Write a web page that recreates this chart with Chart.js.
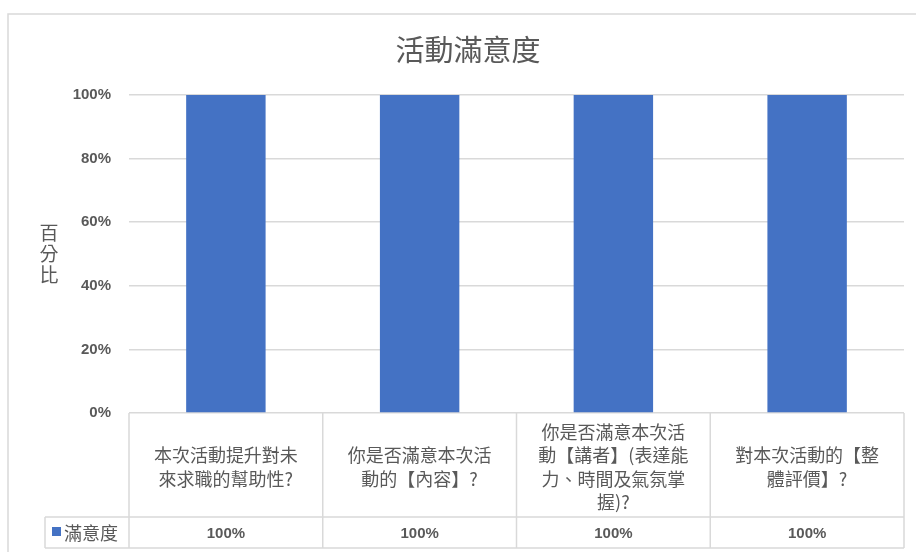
<!DOCTYPE html>
<html>
<head>
<meta charset="utf-8">
<script src="https://cdn.jsdelivr.net/npm/chart.js@4"></script>
<style>
  html, body { margin: 0; padding: 0; background: #fff; }
  #wrap { width: 916px; height: 552px; }
</style>
</head>
<body>
<div id="wrap"><canvas id="satChart" width="916" height="552"></canvas></div>
<script>
// chart data
const categories = [
    ["本次活動提升對未", "來求職的幫助性?"],
    ["你是否滿意本次活", "動的【內容】?"],
    ["你是否滿意本次活", "動【講者】(表達能", "力、時間及氣氛掌", "握)?"],
    ["對本次活動的【整", "體評價】?"]
];
const satisfaction = [100, 100, 100, 100];
const seriesName = "滿意度";
const chartTitle = "活動滿意度";
const axisTitle = ["百", "分", "比"];

const cjk = '"Noto Sans CJK TC", "Noto Sans CJK SC", sans-serif';
const grey = "#595959";
const lineCol = "#d9d9d9";
const barCol = "#4472c4";

// draws title, axis title, outer frame and the data table under the plot
const extras = {
    id: "extras",
    afterDraw(chart) {
        const ctx = chart.ctx;
        const area = chart.chartArea;
        const n = categories.length;
        const colW = (area.right - area.left) / n;
        const tableTop = area.bottom;
        const rowSplit = 517;
        const tableBottom = 548;
        ctx.save();

        // outer frame
        ctx.strokeStyle = lineCol;
        ctx.lineWidth = 1.5;
        ctx.strokeRect(8, 14, 940, 600);

        // title
        ctx.fillStyle = grey;
        ctx.font = "29px " + cjk;
        ctx.textAlign = "center";
        ctx.textBaseline = "middle";
        ctx.fillText(chartTitle, 468, 50);

        // vertical axis title
        ctx.font = "19px " + cjk;
        axisTitle.forEach((ch, i) => ctx.fillText(ch, 49, 233 + i * 21));

        // table grid
        ctx.strokeStyle = lineCol;
        ctx.lineWidth = 1.5;
        ctx.beginPath();
        for (let i = 0; i <= n; i++) {
            const x = area.left + i * colW;
            ctx.moveTo(x, tableTop);
            ctx.lineTo(x, tableBottom);
        }
        ctx.moveTo(45, rowSplit);
        ctx.lineTo(area.right, rowSplit);
        ctx.moveTo(45, tableBottom);
        ctx.lineTo(area.right, tableBottom);
        ctx.moveTo(45, rowSplit);
        ctx.lineTo(45, tableBottom);
        ctx.stroke();

        // category labels
        ctx.fillStyle = grey;
        ctx.font = "18px " + cjk;
        const lh = 23.5;
        const midY = (tableTop + rowSplit) / 2 + 2;
        categories.forEach((lines, i) => {
            const cx = chart.scales.x.getPixelForValue(i);
            const y0 = midY - (lines.length - 1) * lh / 2;
            lines.forEach((t, j) => ctx.fillText(t, cx, y0 + j * lh));
        });

        // values row
        ctx.font = "bold 15px 'Liberation Sans', Arial, sans-serif";
        const valY = (rowSplit + tableBottom) / 2 + 1;
        satisfaction.forEach((v, i) => {
            ctx.fillText(v + "%", chart.scales.x.getPixelForValue(i), valY);
        });

        // legend key
        ctx.fillStyle = barCol;
        ctx.fillRect(52, 527, 9, 9);
        ctx.fillStyle = grey;
        ctx.textAlign = "left";
        ctx.font = "18px " + cjk;
        ctx.fillText(seriesName, 64, valY);

        ctx.restore();
    }
};

new Chart(document.getElementById("satChart"), {
    type: "bar",
    data: {
        labels: categories,
        datasets: [{
            label: seriesName,
            data: satisfaction,
            backgroundColor: barCol,
            categoryPercentage: 1,
            barPercentage: 0.41
        }]
    },
    options: {
        responsive: false,
        animation: false,
        layout: { padding: { left: 0, right: 12, top: 95, bottom: 139 } },
        plugins: {
            legend: { display: false },
            title: { display: false },
            tooltip: { enabled: false }
        },
        scales: {
            x: { display: false },
            y: {
                min: 0,
                max: 100,
                afterFit: s => { s.width = 129; },
                ticks: {
                    stepSize: 20,
                    padding: 18,
                    color: grey,
                    font: { family: "'Liberation Sans', Arial, sans-serif", size: 15, weight: "bold" },
                    callback: v => v + "%"
                },
                grid: { color: lineCol, lineWidth: 1.5, drawTicks: false },
                border: { display: false }
            }
        }
    },
    plugins: [extras]
});
</script>
</body>
</html>
